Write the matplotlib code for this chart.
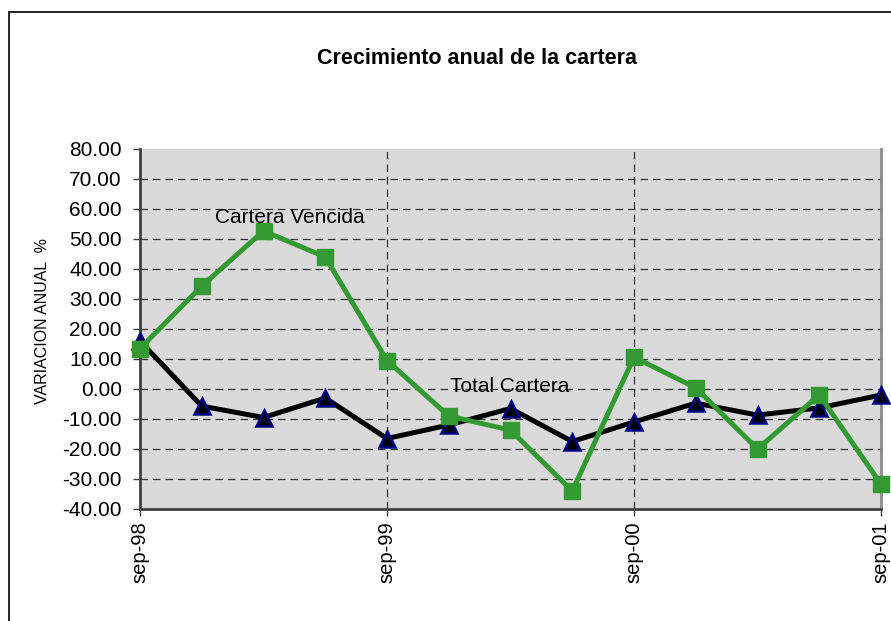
import matplotlib
matplotlib.use("Agg")
import matplotlib.pyplot as plt
from matplotlib.patches import Rectangle

plt.rcParams['font.family'] = ['Liberation Sans', 'DejaVu Sans']

quarters = ["sep-98", "dic-98", "mar-99", "jun-99", "sep-99", "dic-99", "mar-00",
            "jun-00", "sep-00", "dic-00", "mar-01", "jun-01", "sep-01"]
total_cartera = [16.0, -5.7, -9.5, -3.0, -16.5, -12.0, -6.5, -17.5, -11.0, -4.7, -8.7, -6.3, -2.0]
cartera_vencida = [13.5, 34.3, 52.7, 44.0, 9.5, -9.0, -13.7, -34.0, 10.6, 0.4, -20.0, -2.0, -31.7]
tick_labels = ["sep-98", "sep-99", "sep-00", "sep-01"]
tick_idx = [0, 4, 8, 12]

fig = plt.figure(figsize=(8.91, 6.21), dpi=100)
fig.patch.set_facecolor('white')
fig.patches.append(Rectangle((9/891, -0.05), 1.1, 1.05 - 12/621, transform=fig.transFigure,
                             fill=False, edgecolor='black', linewidth=1.2, zorder=0))

ax = fig.add_axes([140/891, 1 - 509/621, 741/891, 360/621])
ax.set_facecolor('#dadada')

x = list(range(len(quarters)))
ax.plot(x, total_cartera, color='black', linewidth=3.6, marker='^', markersize=12,
        markerfacecolor='black', markeredgecolor='#000080', markeredgewidth=1.8, zorder=3,
        clip_on=False)
ax.plot(x, cartera_vencida, color='#339933', linewidth=3.6, marker='s', markersize=11,
        markerfacecolor='#339933', markeredgecolor='#339933', zorder=4, clip_on=False)

ax.set_xlim(0, 12)
ax.set_ylim(-40, 80)
ax.set_yticks(range(-40, 81, 10))
ax.set_yticklabels([f"{v:.2f}" for v in range(-40, 81, 10)], fontsize=15)
ax.set_xticks(tick_idx)
ax.set_xticklabels(tick_labels, rotation=90, fontsize=14.5)

for yv in range(-30, 80, 10):
    ax.axhline(yv, color='#333333', linewidth=0.9, linestyle=(0, (6, 4)), zorder=1)
for xv in [4, 8]:
    ax.axvline(xv, color='#333333', linewidth=0.9, linestyle=(0, (6, 4)), zorder=1)

ax.spines['top'].set_visible(False)
ax.spines['left'].set_color('#404040')
ax.spines['left'].set_linewidth(2)
ax.spines['bottom'].set_color('#404040')
ax.spines['bottom'].set_linewidth(2)
ax.spines['right'].set_color('#8a8a8a')
ax.spines['right'].set_linewidth(2)
ax.tick_params(axis='both', direction='out', length=5, width=1, color='#404040')
ax.tick_params(axis='y', pad=8)
ax.tick_params(axis='x', pad=4)

ax.text(1.21, 57.3, "Cartera Vencida", fontsize=15, va='center', ha='left', zorder=5)
ax.text(5.02, 1.0, "Total Cartera", fontsize=15, va='center', ha='left', zorder=5)

fig.text(477/891, 1 - 58/621, "Crecimiento anual de la cartera", fontsize=15.5,
         fontweight='bold', ha='center', va='center')
fig.text(43/891, 1 - 321/621, "VARIACION ANUAL  %", fontsize=11.5, rotation=90,
         ha='center', va='center')

fig.savefig("out.png", dpi=100)
